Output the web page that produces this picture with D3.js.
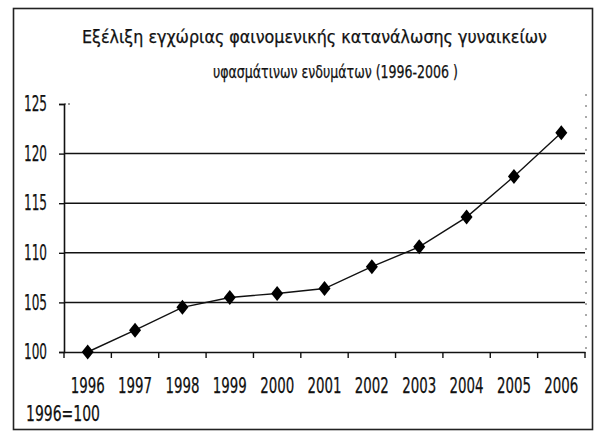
<!DOCTYPE html>
<html>
<head>
<meta charset="utf-8">
<script src="https://cdn.jsdelivr.net/npm/d3@7"></script>
<style>
  body { margin: 0; background: #fff; }
  text { font-family: "Liberation Sans Narrow", "Arial Narrow", "DejaVu Sans Condensed", sans-serif; fill: #111; stroke: #111; stroke-width: 0.25px; }
</style>
</head>
<body>
<script>
// data
const years = ['1996', '1997', '1998', '1999', '2000', '2001', '2002', '2003', '2004', '2005', '2006'];
const values = [100, 102.2, 104.5, 105.5, 105.9, 106.4, 108.6, 110.6, 113.6, 117.7, 122.1];
const yTicks = [100, 105, 110, 115, 120, 125];
const titleLines = ['Εξέλιξη εγχώριας φαινομενικής κατανάλωσης γυναικείων', 'υφασμάτινων ενδυμάτων (1996-2006 )'];
const baseNote = '1996=100';

const W = 596, H = 435;
const plot = { left: 64, right: 585, top: 104, bottom: 352 };
const narrow = '"Liberation Sans Narrow", "Arial Narrow", "DejaVu Sans Condensed", sans-serif';

const svg = d3.select('body').append('svg')
    .attr('width', W)
    .attr('height', H);

// outer frame
svg.append('rect')
   .attr('x', 13.5).attr('y', 8.5)
   .attr('width', 579).attr('height', 421)
   .attr('fill', 'none')
   .attr('stroke', '#222')
   .attr('stroke-width', 1.6);

const x = d3.scaleBand().domain(years).range([plot.left, plot.right]);
const y = d3.scaleLinear().domain([100, 125]).range([plot.bottom, plot.top]);

// title
const titlePos = [{ x: 82, y: 43, w: 465 }, { x: 213, y: 78, w: 245 }];
svg.selectAll('.title')
   .data(titleLines)
   .enter().append('text')
   .attr('class', 'title')
   .attr('x', (d, i) => titlePos[i].x)
   .attr('y', (d, i) => titlePos[i].y)
   .attr('font-size', 18)
   .attr('textLength', (d, i) => titlePos[i].w)
   .attr('lengthAdjust', 'spacingAndGlyphs')
   .text(d => d);

// gridlines (125 only shows as a stub)
svg.selectAll('.grid')
   .data(yTicks.filter(v => v > 100 && v < 125))
   .enter().append('line')
   .attr('class', 'grid')
   .attr('x1', plot.left).attr('x2', plot.right)
   .attr('y1', d => y(d)).attr('y2', d => y(d))
   .attr('stroke', '#111')
   .attr('stroke-width', 1.5);

svg.append('line')
   .attr('x1', plot.left).attr('x2', plot.left + 8)
   .attr('y1', y(125)).attr('y2', y(125))
   .attr('stroke', '#333')
   .attr('stroke-dasharray', '2,2');

// faint right edge
svg.append('line')
   .attr('x1', plot.right + 1).attr('x2', plot.right + 1)
   .attr('y1', plot.top - 10).attr('y2', plot.bottom)
   .attr('stroke', '#555')
   .attr('stroke-width', 1)
   .attr('stroke-dasharray', '2,9');

// y axis
const yAxis = d3.axisLeft(y).tickValues(yTicks).tickSize(5).tickPadding(12);
const gy = svg.append('g')
   .attr('transform', `translate(${plot.left},0)`)
   .call(yAxis);
gy.select('.domain').attr('stroke', '#111').attr('stroke-width', 1.6);
gy.selectAll('.tick line').attr('stroke', '#111').attr('stroke-width', 1.4);
gy.selectAll('.tick text')
  .attr('x', -17)
  .attr('font-size', 21)
  .attr('fill', '#111')
  .attr('font-family', narrow)
  .attr('textLength', 23)
  .attr('lengthAdjust', 'spacingAndGlyphs');

// x axis: ticks on category boundaries
const xAxis = d3.axisBottom(x).tickSize(0).tickPadding(26);
const gx = svg.append('g')
   .attr('transform', `translate(0,${plot.bottom})`)
   .call(xAxis);
gx.select('.domain').attr('stroke', '#111').attr('stroke-width', 1.6);
gx.selectAll('.tick text')
  .attr('font-size', 21)
  .attr('fill', '#111')
  .attr('font-family', narrow)
  .attr('textLength', 34)
  .attr('lengthAdjust', 'spacingAndGlyphs');

const bounds = years.map(d => x(d)).concat([x(years[years.length - 1]) + x.bandwidth()]);
svg.selectAll('.xtick')
   .data(bounds)
   .enter().append('line')
   .attr('class', 'xtick')
   .attr('x1', d => d).attr('x2', d => d)
   .attr('y1', plot.bottom).attr('y2', plot.bottom + 6)
   .attr('stroke', '#111')
   .attr('stroke-width', 1.4);

// line
const line = d3.line()
    .x((d, i) => x(years[i]) + x.bandwidth() / 2)
    .y(d => y(d));

svg.append('path')
   .datum(values)
   .attr('d', line)
   .attr('fill', 'none')
   .attr('stroke', '#111')
   .attr('stroke-width', 1.4);

// diamond markers
svg.selectAll('.pt')
   .data(values)
   .enter().append('path')
   .attr('class', 'pt')
   .attr('d', 'M0,-7.5L6,0L0,7.5L-6,0Z')
   .attr('transform', (d, i) => `translate(${x(years[i]) + x.bandwidth() / 2},${y(d)})`)
   .attr('fill', '#000');

// base note
svg.append('text')
   .attr('x', 26)
   .attr('y', 421)
   .attr('font-size', 21)
   .attr('textLength', 74)
   .attr('lengthAdjust', 'spacingAndGlyphs')
   .text(baseNote);
</script>
</body>
</html>
